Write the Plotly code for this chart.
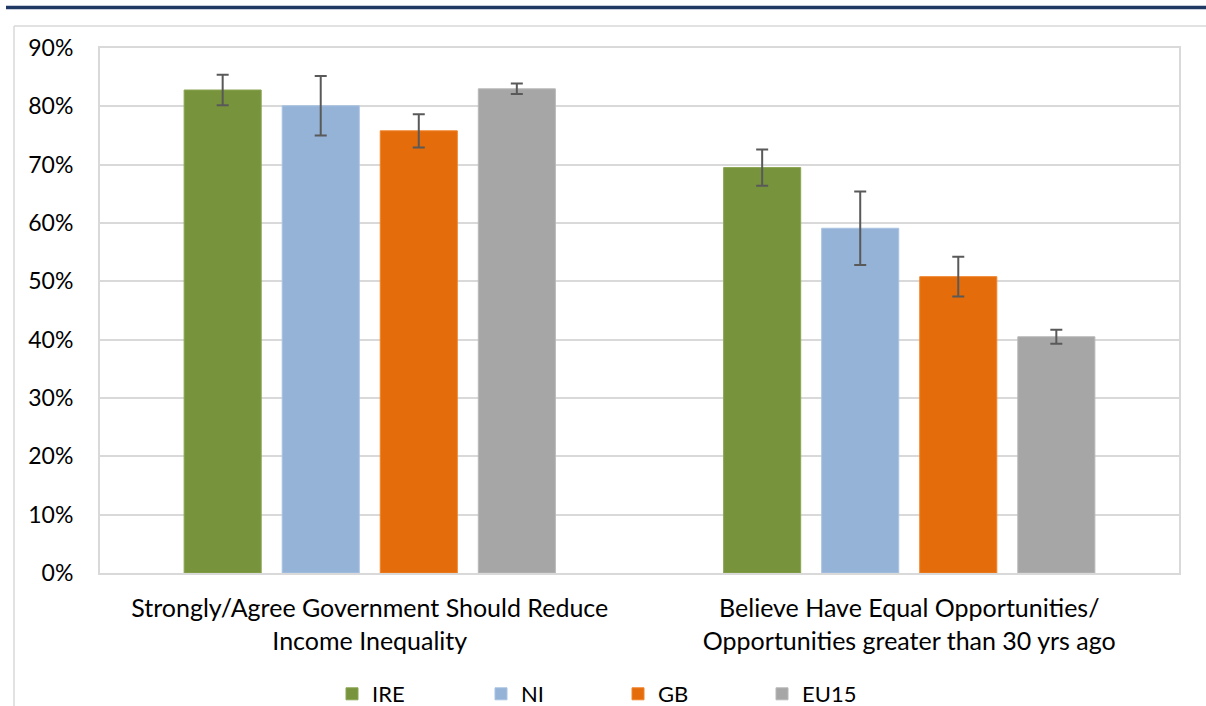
import plotly.graph_objects as go

categories = ["Strongly/Agree Government Should Reduce<br>Income Inequality",
              "Believe Have Equal Opportunities/<br>Opportunities greater than 30 yrs ago"]
series_names = ["IRE", "NI", "GB", "EU15"]
ire = [82.8, 69.5]
ni = [80.1, 59.1]
gb = [75.8, 50.8]
eu15 = [83.0, 40.5]
ire_err = [2.6, 3.1]
ni_err = [5.1, 6.3]
gb_err = [2.85, 3.4]
eu15_err = [0.9, 1.2]
colors = ["#77933c", "#95b3d7", "#e46c0a", "#a6a6a6"]
edge_colors = ["#8aa552", "#a9c3e2", "#f0842c", "#b8b8b8"]
tick_vals = [0, 10, 20, 30, 40, 50, 60, 70, 80, 90]
tick_text = ["0%", "10%", "20%", "30%", "40%", "50%", "60%", "70%", "80%", "90%"]

values = [ire, ni, gb, eu15]
errors = [ire_err, ni_err, gb_err, eu15_err]

FONT = "Lato, Carlito, Calibri, sans-serif"

W, H = 1206, 706
L, R, T, B = 100, 1179, 48, 573


def px_x(p):
    return (p - L) / (R - L)


def px_y(p):
    return (B - p) / (B - T)


legend_ids = ["legend", "legend2", "legend3", "legend4"]
legend_text_x = [373, 522, 659, 803]

fig = go.Figure()
for name, vals, errs, c, ec, lid in zip(series_names, values, errors, colors,
                                         edge_colors, legend_ids):
    fig.add_trace(go.Bar(
        name=name, x=categories, y=vals, legend=lid,
        marker=dict(color=c, line=dict(color=ec, width=1)),
        error_y=dict(type="data", array=errs, visible=True,
                     color="#595959", thickness=2, width=6),
    ))

shapes = [
    dict(type="line", xref="paper", yref="paper",
         x0=px_x(6), x1=px_x(1206), y0=px_y(7.5), y1=px_y(7.5),
         line=dict(color="#1f3864", width=3.5)),
    dict(type="line", xref="paper", yref="paper",
         x0=px_x(14), x1=px_x(1206), y0=px_y(26), y1=px_y(26),
         line=dict(color="#d9d9d9", width=1.5)),
    dict(type="line", xref="paper", yref="paper",
         x0=px_x(14), x1=px_x(14), y0=px_y(26), y1=px_y(706),
         line=dict(color="#d9d9d9", width=1.5)),
]

legends = {}
for lid, tx in zip(legend_ids, legend_text_x):
    legends[lid] = dict(orientation="h", x=px_x(tx - 41), xanchor="left",
                        y=px_y(694), yanchor="middle",
                        font=dict(family=FONT, size=22, color="#000000"),
                        bgcolor="rgba(0,0,0,0)", itemwidth=30)

fig.update_layout(
    width=W, height=H,
    margin=dict(l=L, r=W - R, t=T, b=H - B, autoexpand=False),
    paper_bgcolor="white", plot_bgcolor="white",
    font=dict(family=FONT, size=22, color="#000000"),
    barmode="group", bargap=0.273, bargroupgap=0.214,
    shapes=shapes,
    showlegend=True,
    **legends,
)
fig.update_yaxes(range=[0, 90], tickvals=tick_vals, ticktext=tick_text,
                 showgrid=True, gridcolor="#d9d9d9", gridwidth=1.5,
                 showline=True, linecolor="#d9d9d9", linewidth=2, mirror=True,
                 zeroline=False, ticks="", ticklabelstandoff=20,
                 tickfont=dict(family=FONT, size=23, color="#000000"))
fig.update_xaxes(showline=True, linecolor="#d9d9d9", linewidth=2, mirror=True,
                 ticks="", tickfont=dict(family=FONT, size=25, color="#000000"),
                 ticklabelstandoff=12)

post = (
    "document.documentElement.style.margin='0';"
    "document.documentElement.style.overflow='hidden';"
    "document.body.style.margin='0';"
    "document.body.style.overflow='hidden';"
    "var gd=document.getElementById('{plot_id}');"
    "gd.style.position='fixed';gd.style.top='0px';gd.style.left='0px';"
)
fig.write_html("out.html", post_script=post,
               config={"displayModeBar": False})
